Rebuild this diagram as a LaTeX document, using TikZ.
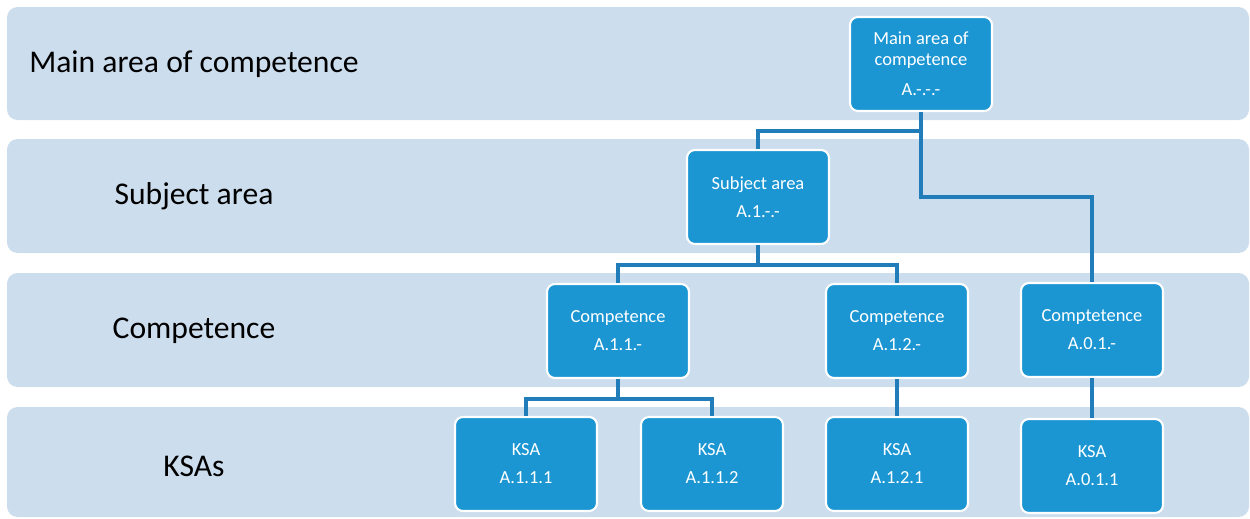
\documentclass[tikz,border=0pt]{standalone}
\usepackage{fontspec}
\setmainfont{Carlito}
\usepackage{tikz}
\definecolor{bandblue}{RGB}{204,221,238}
\definecolor{boxblue}{RGB}{27,150,211}
\definecolor{linkblue}{RGB}{33,125,185}
\begin{document}
\begin{tikzpicture}[x=0.02cm,y=-0.02cm,
    band/.style={fill=bandblue,draw=none,rounded corners=6pt},
    bandlabel/.style={font=\fontsize{18}{22}\selectfont,text=black},
    unit/.style={fill=boxblue,draw=white,line width=1.2pt,rounded corners=4.5pt,
      minimum width=2.84cm,minimum height=1.88cm,align=center,text=white,
      font=\fontsize{10.5}{12}\selectfont},
    link/.style={draw=linkblue,line width=1.9pt}]
      \useasboundingbox (0,0) rectangle (1250,518);
      \fill[band] (7,7) rectangle (1249,120);
      \fill[band] (7,139) rectangle (1249,253);
      \fill[band] (7,273) rectangle (1249,387);
      \fill[band] (7,407) rectangle (1249,517);
      \node[bandlabel] (lmain) at (194,64) {Main area of competence};
      \node[bandlabel] (lsubj) at (194,196) {Subject area};
      \node[bandlabel] (lcomp) at (194,331) {Competence};
      \node[bandlabel] (lksa) at (194,466) {KSAs};
      \node[unit] (main) at (921,64) {Main area of\\competence\\[5pt]A.-.-.-};
      \node[unit] (subj) at (758,197) {Subject area\\[4pt]A.1.-.-};
      \node[unit] (a11) at (618,331) {Competence\\[4pt]A.1.1.-};
      \node[unit] (a12) at (897,331) {Competence\\[4pt]A.1.2.-};
      \node[unit] (a01) at (1092,330) {Comptetence\\[4pt]A.0.1.-};
      \node[unit] (k1) at (526,464) {KSA\\[4pt]A.1.1.1};
      \node[unit] (k2) at (712,464) {KSA\\[4pt]A.1.1.2};
      \node[unit] (k3) at (897,464) {KSA\\[4pt]A.1.2.1};
      \node[unit] (k4) at (1092,466) {KSA\\[4pt]A.0.1.1};
      % tree links
      \draw[link] (main.south) -- ++(0,19) -| (subj.north);
      \draw[link] (main.south) |- (subj -| a01) -- (a01.north);
      \draw[link] (subj.south) -- ++(0,20) -| (a11.north);
      \draw[link] (subj.south) -- ++(0,20) -| (a12.north);
      \draw[link] (a11.south) -- ++(0,20) -| (k1.north);
      \draw[link] (a11.south) -- ++(0,20) -| (k2.north);
      \draw[link] (a12.south) -- (k3.north);
      \draw[link] (a01.south) -- (k4.north);
    \end{tikzpicture}
\end{document}
